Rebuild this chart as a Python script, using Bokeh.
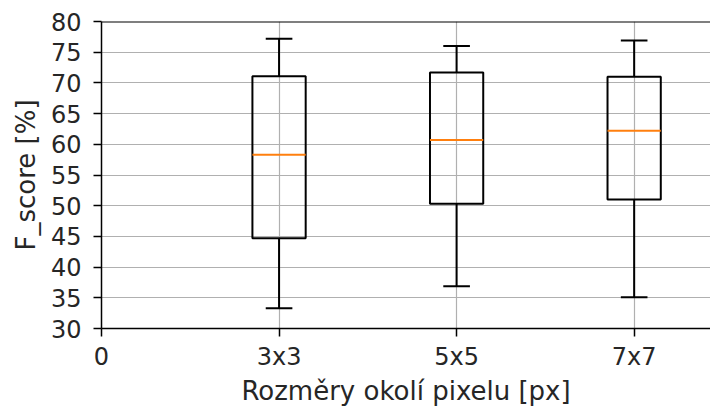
from bokeh.plotting import figure
from bokeh.models import FixedTicker, Range1d, ColumnDataSource, Span
from bokeh.embed import file_html
from bokeh.resources import INLINE

categories = ["3x3", "5x5", "7x7"]
whisker_low = [33.3, 36.9, 35.1]
q1 = [44.7, 50.3, 51.0]
median = [58.3, 60.7, 62.2]
q3 = [71.1, 71.7, 71.0]
whisker_high = [77.2, 76.0, 76.9]
y_ticks = [30, 35, 40, 45, 50, 55, 60, 65, 70, 75, 80]
x_tick_labels = ["0"] + categories

pos = list(range(1, len(categories) + 1))
bw = 0.3
cw = bw / 2

src = ColumnDataSource(dict(
    x=pos,
    left=[p_ - bw / 2 for p_ in pos], right=[p_ + bw / 2 for p_ in pos],
    cl=[p_ - cw / 2 for p_ in pos], cr=[p_ + cw / 2 for p_ in pos],
    lo=whisker_low, q1=q1, med=median, q3=q3, hi=whisker_high,
))

FONT = "DejaVu Sans"
p = figure(width=710, height=409, output_backend="svg", toolbar_location=None,
           x_range=Range1d(0, 3.43), y_range=Range1d(30, 80),
           min_border_left=101, min_border_right=0, min_border_top=21, min_border_bottom=81)

p.outline_line_color = None
p.background_fill_color = "white"
p.border_fill_color = "white"

p.xgrid.grid_line_color = "#b0b0b0"
p.ygrid.grid_line_color = "#b0b0b0"
p.xgrid.grid_line_width = 1.2
p.ygrid.grid_line_width = 1.2

p.xaxis.ticker = FixedTicker(ticks=list(range(len(x_tick_labels))))
p.xaxis.major_label_overrides = {i: l for i, l in enumerate(x_tick_labels)}
p.yaxis.ticker = FixedTicker(ticks=y_ticks)

for ax in (p.xaxis[0], p.yaxis[0]):
    ax.axis_line_color = "black"
    ax.axis_line_width = 1.5
    ax.major_tick_line_color = "black"
    ax.major_tick_line_width = 1.5
    ax.major_tick_out = 8
    ax.major_tick_in = 0
    ax.minor_tick_line_color = None
    ax.major_label_text_font = FONT
    ax.major_label_text_font_size = "24px"
    ax.major_label_text_color = "#262626"
    ax.axis_label_text_font = FONT
    ax.axis_label_text_font_size = "26px"
    ax.axis_label_text_font_style = "normal"
    ax.axis_label_text_color = "#262626"

p.xaxis.axis_label = "Rozměry okolí pixelu [px]"
p.yaxis.axis_label = "F_score [%]"
p.xaxis.major_label_standoff = 6
p.yaxis.major_label_standoff = 12
p.xaxis.axis_label_standoff = 2
p.yaxis.axis_label_standoff = 7

p.add_layout(Span(location=80, dimension="width", line_color="black", line_width=2))

# whiskers
p.segment(x0="x", y0="lo", x1="x", y1="q1", source=src, line_color="black", line_width=2)
p.segment(x0="x", y0="q3", x1="x", y1="hi", source=src, line_color="black", line_width=2)
# caps
p.segment(x0="cl", y0="lo", x1="cr", y1="lo", source=src, line_color="black", line_width=2)
p.segment(x0="cl", y0="hi", x1="cr", y1="hi", source=src, line_color="black", line_width=2)
# boxes
p.quad(left="left", right="right", bottom="q1", top="q3", source=src,
       fill_color=None, line_color="black", line_width=2)
# medians
p.segment(x0="left", y0="med", x1="right", y1="med", source=src, line_color="#ff7f0e", line_width=2)

open("out.html", "w").write(file_html(p, INLINE))
